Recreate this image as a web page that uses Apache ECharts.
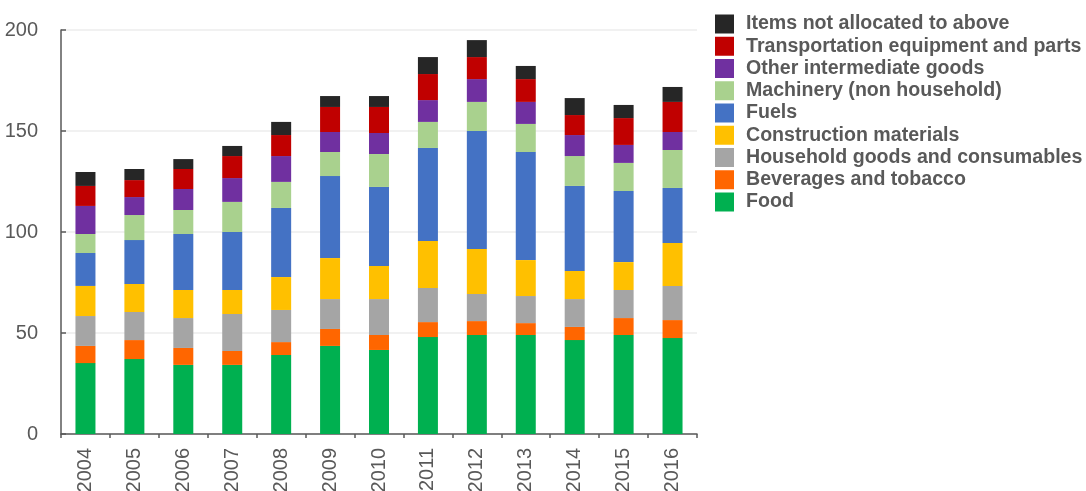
<!DOCTYPE html>
<html>
<head>
<meta charset="utf-8">
<script src="https://cdn.jsdelivr.net/npm/echarts@6/dist/echarts.min.js"></script>
<style>
html,body{margin:0;padding:0;background:#fff;}
#chart{width:1086px;height:491px;}
</style>
</head>
<body>
<div id="chart"></div>
<script>
const years = ['2004','2005','2006','2007','2008','2009','2010','2011','2012','2013','2014','2015','2016'];
const yTicks = [0, 50, 100, 150, 200];

const food         = [35.1, 37.1, 34.2, 34.2, 39.1, 43.6, 41.6, 48.0, 49.0, 49.0, 46.5, 49.0, 47.5];
const beverages    = [8.5, 9.4, 8.4, 6.9, 6.4, 8.4, 7.4, 7.4, 6.9, 5.9, 6.5, 8.4, 8.9];
const household    = [14.8, 13.9, 14.8, 18.3, 15.9, 14.8, 17.8, 16.9, 13.4, 13.4, 13.8, 13.9, 16.9];
const construction = [14.9, 13.9, 13.9, 11.9, 16.3, 20.3, 16.4, 23.2, 22.3, 17.8, 13.9, 13.8, 21.3];
const fuels        = [16.3, 21.7, 27.7, 28.7, 34.2, 40.6, 39.1, 46.1, 58.4, 53.5, 42.1, 35.2, 27.2];
const machinery    = [9.4, 12.4, 11.9, 14.9, 12.9, 11.9, 16.3, 12.9, 14.4, 13.9, 14.8, 13.9, 18.8];
const otherInter   = [13.9, 8.9, 10.4, 11.8, 12.8, 9.9, 10.4, 10.8, 11.3, 10.9, 10.4, 8.9, 8.9];
const transport    = [9.9, 8.4, 9.9, 10.9, 10.4, 12.4, 12.9, 12.9, 10.9, 11.3, 9.9, 13.3, 14.9];
const itemsNA      = [6.9, 5.5, 4.9, 5.0, 6.5, 5.4, 5.4, 8.4, 8.4, 6.5, 8.4, 6.5, 7.4];

const seriesDefs = [
  ['Food', food, '#00B050'],
  ['Beverages and tobacco', beverages, '#FF6600'],
  ['Household goods and consumables', household, '#A5A5A5'],
  ['Construction materials', construction, '#FFC000'],
  ['Fuels', fuels, '#4472C4'],
  ['Machinery (non household)', machinery, '#A9D18E'],
  ['Other intermediate goods', otherInter, '#7030A0'],
  ['Transportation equipment and parts', transport, '#C00000'],
  ['Items not allocated to above', itemsNA, '#262626']
];

const chart = echarts.init(document.getElementById('chart'));
chart.setOption({
  animation: false,
  backgroundColor: '#ffffff',
  grid: {left: 61, right: 389, top: 30, bottom: 57, containLabel: false, outerBoundsMode: 'none'},
  legend: {
    orient: 'vertical',
    left: 710,
    top: 9,
    itemWidth: 19,
    itemHeight: 19,
    itemGap: 2.25,
    icon: 'rect',
    textStyle: {fontFamily: 'Liberation Sans, Arial, sans-serif', fontWeight: 'bold', fontSize: 19.6, color: '#595959', lineHeight: 19, padding: [0,0,0,7]},
    data: seriesDefs.map(s => s[0]).reverse()
  },
  xAxis: {
    type: 'category',
    data: years,
    axisLine: {lineStyle: {color: '#595959', width: 1.5}},
    axisTick: {show: true, length: 4, lineStyle: {color: '#595959', width: 1.5}},
    axisLabel: {rotate: 90, fontSize: 20, color: '#595959', fontFamily: 'Liberation Sans, Arial, sans-serif', margin: 14}
  },
  yAxis: {
    type: 'value',
    min: yTicks[0],
    max: yTicks[yTicks.length - 1],
    interval: 50,
    axisLine: {show: true, lineStyle: {color: '#595959', width: 1.5}},
    axisTick: {show: true, inside: true, length: 5, lineStyle: {color: '#595959', width: 1.5}},
    axisLabel: {fontSize: 20, color: '#595959', fontFamily: 'Liberation Sans, Arial, sans-serif', margin: 23},
    splitLine: {show: true, lineStyle: {color: '#EDEDED', width: 1.5}}
  },
  series: seriesDefs.map(([name, data, color]) => ({
    name: name,
    type: 'bar',
    stack: 'total',
    data: data,
    barWidth: 20,
    itemStyle: {color: color},
    emphasis: {disabled: true}
  }))
});
</script>
</body>
</html>
